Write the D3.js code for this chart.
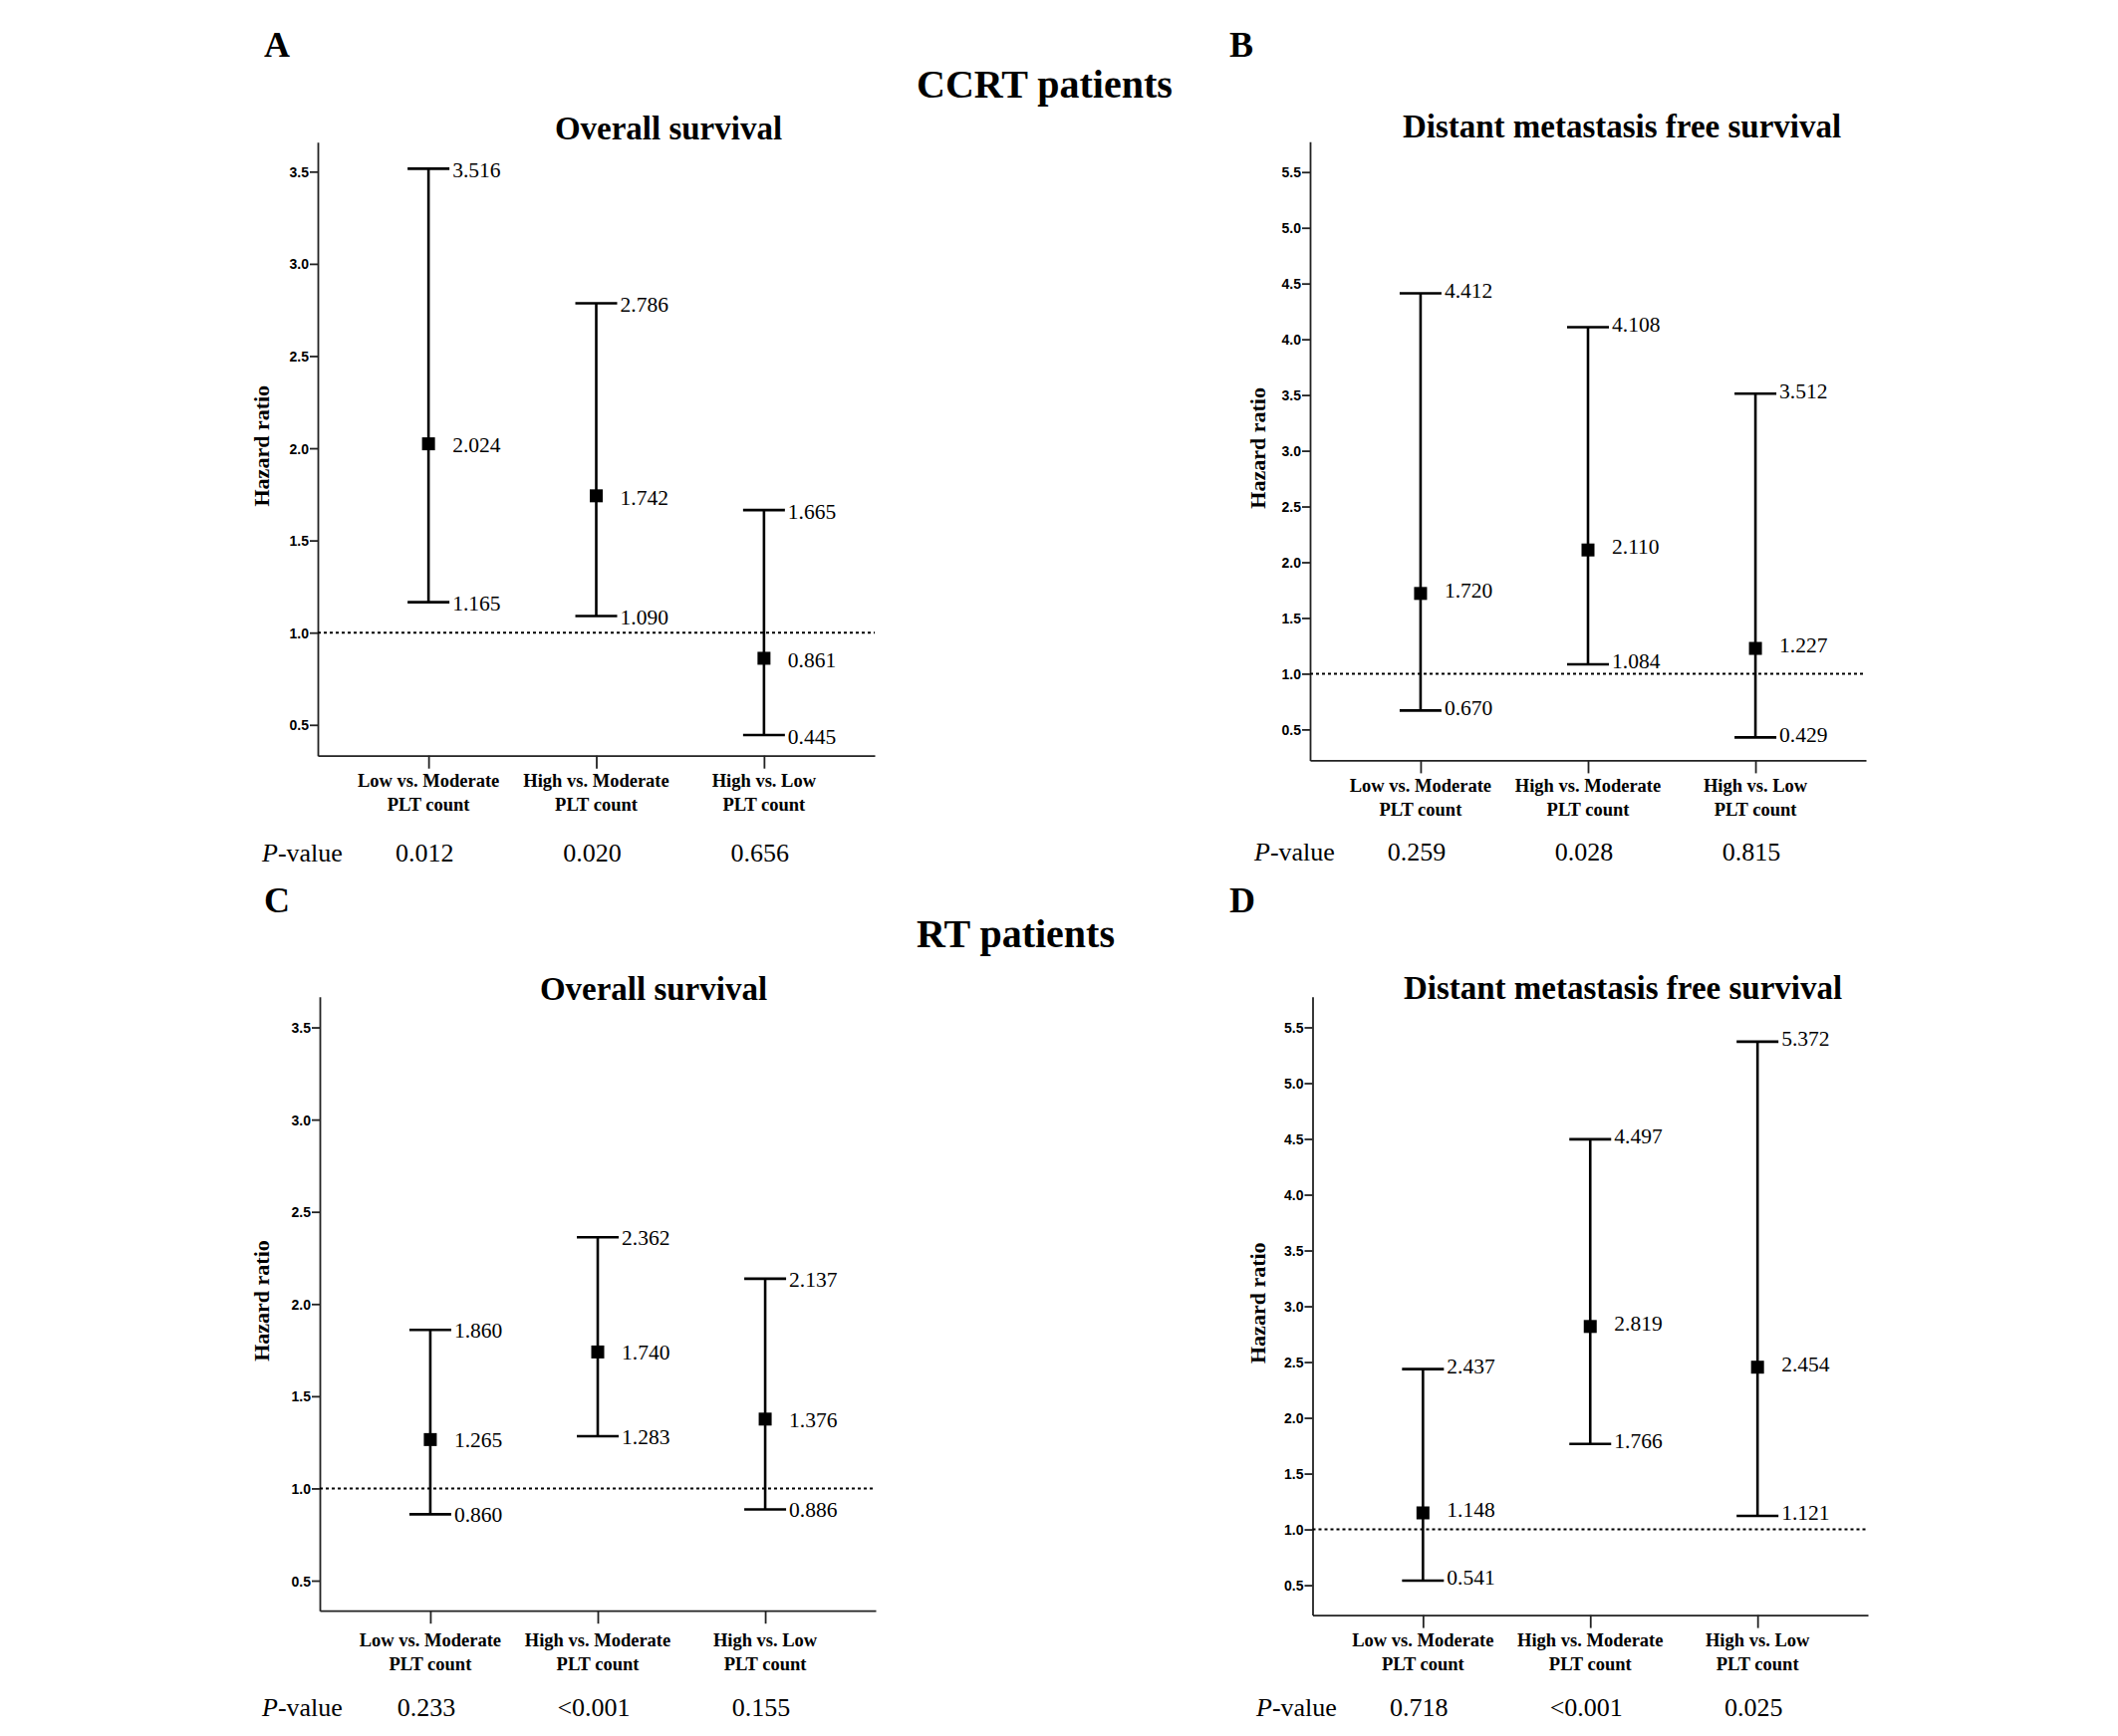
<!DOCTYPE html>
<html>
<head>
<meta charset="utf-8">
<title>Hazard ratios by PLT count</title>
<script src="https://cdn.jsdelivr.net/npm/d3@7"></script>
<style>
  body { margin: 0; background: #fff; }
  svg text { font-family: 'Liberation Serif', 'Times New Roman', serif; fill: #000; }
  svg .tick text { font-family: 'Liberation Sans', Arial, sans-serif; font-weight: bold; font-size: 14px; }
</style>
</head>
<body>
<script>
// categories shared by all four panels
const categories = ['Low vs. Moderate', 'High vs. Moderate', 'High vs. Low']
const categorySub = 'PLT count'

// A: CCRT patients, overall survival
const ccrtOsHr = [2.024, 1.742, 0.861]
const ccrtOsLo = [1.165, 1.090, 0.445]
const ccrtOsHi = [3.516, 2.786, 1.665]
const ccrtOsP = ['0.012', '0.020', '0.656']

// B: CCRT patients, distant metastasis free survival
const ccrtDmfsHr = [1.720, 2.110, 1.227]
const ccrtDmfsLo = [0.670, 1.084, 0.429]
const ccrtDmfsHi = [4.412, 4.108, 3.512]
const ccrtDmfsP = ['0.259', '0.028', '0.815']

// C: RT patients, overall survival
const rtOsHr = [1.265, 1.740, 1.376]
const rtOsLo = [0.860, 1.283, 0.886]
const rtOsHi = [1.860, 2.362, 2.137]
const rtOsP = ['0.233', '<0.001', '0.155']

// D: RT patients, distant metastasis free survival
const rtDmfsHr = [1.148, 2.819, 2.454]
const rtDmfsLo = [0.541, 1.766, 1.121]
const rtDmfsHi = [2.437, 4.497, 5.372]
const rtDmfsP = ['0.718', '<0.001', '0.025']

const osTicks = [0.5, 1.0, 1.5, 2.0, 2.5, 3.0, 3.5]
const dmfsTicks = [0.5, 1.0, 1.5, 2.0, 2.5, 3.0, 3.5, 4.0, 4.5, 5.0, 5.5]

const headings = ['CCRT patients', 'RT patients']
const osTitle = 'Overall survival'
const dmfsTitle = 'Distant metastasis free survival'

let svg = d3.select('body').append('svg')
    .attr('width', 2126)
    .attr('height', 1743)

svg.append('rect').attr('width', 2126).attr('height', 1743).attr('fill', '#fff')

// panel layout
let panels = [
    {letter: 'A', title: osTitle, hr: ccrtOsHr, lo: ccrtOsLo, hi: ccrtOsHi, p: ccrtOsP, ticks: osTicks,
     x0: 319, x1: 878, yTop: 142.7, yBot: 758.7, domain: [0.333, 3.66],
     titleX: 671, titleY: 139.5, letterX: 265, letterY: 57, labelX: 270, pX: 263,
     catY: 790, pY: 865, shift: 1},
    {letter: 'B', title: dmfsTitle, hr: ccrtDmfsHr, lo: ccrtDmfsLo, hi: ccrtDmfsHi, p: ccrtDmfsP, ticks: dmfsTicks,
     x0: 1315, x1: 1873, yTop: 142.3, yBot: 763.4, domain: [0.223, 5.772],
     titleX: 1628, titleY: 138, letterX: 1234, letterY: 57, labelX: 1269.5, pX: 1259,
     catY: 795, pY: 864, shift: -3.5},
    {letter: 'C', title: osTitle, hr: rtOsHr, lo: rtOsLo, hi: rtOsHi, p: rtOsP, ticks: osTicks,
     x0: 321, x1: 879, yTop: 1000.8, yBot: 1617.2, domain: [0.337, 3.666],
     titleX: 656, titleY: 1003.6, letterX: 265, letterY: 916, labelX: 270, pX: 263,
     catY: 1653, pY: 1723, shift: 0},
    {letter: 'D', title: dmfsTitle, hr: rtDmfsHr, lo: rtDmfsLo, hi: rtDmfsHi, p: rtDmfsP, ticks: dmfsTicks,
     x0: 1317.5, x1: 1875, yTop: 1000.8, yBot: 1621.6, domain: [0.232, 5.774],
     titleX: 1629, titleY: 1002.5, letterX: 1234, letterY: 916, labelX: 1269.5, pX: 1261,
     catY: 1653, pY: 1723, shift: -3.5}
]

svg.append('text').attr('x', 920).attr('y', 97.6)
    .style('font-weight', 'bold').style('font-size', '40px').text(headings[0])
svg.append('text').attr('x', 920).attr('y', 950.7)
    .style('font-weight', 'bold').style('font-size', '40px').text(headings[1])

function drawPanel(p) {
    let g = svg.append('g')

    let x = d3.scalePoint().domain(categories).range([p.x0, p.x1]).padding(0.66)
    let y = d3.scaleLinear().domain(p.domain).range([p.yBot, p.yTop])

    let yAxis = d3.axisLeft(y).tickValues(p.ticks).tickFormat(d3.format('.1f'))
        .tickSize(8).tickSizeOuter(0).tickPadding(1)
    let xAxis = d3.axisBottom(x).tickSize(13).tickSizeOuter(0).tickFormat('')

    let ya = g.append('g').attr('transform', 'translate(' + p.x0 + ',0)').call(yAxis)
    g.append('g').attr('transform', 'translate(0,' + p.yBot + ')').call(xAxis)
    ya.selectAll('.tick text').attr('dy', '0.36em')
    g.selectAll('.domain, .tick line').attr('stroke', '#222').attr('stroke-width', 1.8)

    // reference line at HR = 1
    g.append('line')
        .attr('x1', p.x0).attr('x2', p.x1)
        .attr('y1', y(1)).attr('y2', y(1))
        .attr('stroke', '#000').attr('stroke-width', 2)
        .attr('stroke-dasharray', '3,3')

    let rows = categories.map((c, i) => ({cat: c, hr: p.hr[i], lo: p.lo[i], hi: p.hi[i], p: p.p[i]}))

    let bars = g.selectAll('.bar').data(rows).enter().append('g').attr('class', 'bar')

    bars.append('line')
        .attr('x1', d => x(d.cat)).attr('x2', d => x(d.cat))
        .attr('y1', d => y(d.lo)).attr('y2', d => y(d.hi))
        .attr('stroke', '#000').attr('stroke-width', 2.6)

    bars.selectAll('.cap').data(d => [{cat: d.cat, v: d.lo}, {cat: d.cat, v: d.hi}])
        .enter().append('line').attr('class', 'cap')
        .attr('x1', d => x(d.cat) - 21).attr('x2', d => x(d.cat) + 21)
        .attr('y1', d => y(d.v)).attr('y2', d => y(d.v))
        .attr('stroke', '#000').attr('stroke-width', 2.6)

    bars.append('rect')
        .attr('x', d => x(d.cat) - 6.5).attr('y', d => y(d.hr) - 6.5)
        .attr('width', 13).attr('height', 13)
        .attr('fill', '#000')

    bars.selectAll('.val').data(d => [{cat: d.cat, v: d.lo}, {cat: d.cat, v: d.hr}, {cat: d.cat, v: d.hi}])
        .enter().append('text').attr('class', 'val')
        .attr('x', d => x(d.cat) + 24)
        .attr('y', d => y(d.v) + p.shift)
        .attr('dy', '0.36em')
        .style('font-size', '21.5px')
        .text(d => d3.format('.3f')(d.v))

    // category labels
    bars.append('text')
        .attr('x', d => x(d.cat)).attr('y', p.catY)
        .attr('text-anchor', 'middle')
        .style('font-weight', 'bold').style('font-size', '18.5px')
        .text(d => d.cat)
    bars.append('text')
        .attr('x', d => x(d.cat)).attr('y', p.catY + 24)
        .attr('text-anchor', 'middle')
        .style('font-weight', 'bold').style('font-size', '18.5px')
        .text(categorySub)

    // p-values
    let pl = g.append('text').attr('x', p.pX).attr('y', p.pY).style('font-size', '26px')
    pl.append('tspan').style('font-style', 'italic').text('P')
    pl.append('tspan').text('-value')

    bars.append('text')
        .attr('x', d => x(d.cat) - 4).attr('y', p.pY)
        .attr('text-anchor', 'middle')
        .style('font-size', '26px')
        .text(d => d.p)

    // y label
    g.append('text')
        .attr('transform', 'translate(' + p.labelX + ',' + ((p.yTop + p.yBot) / 2 - 3) + ') rotate(-90)')
        .attr('text-anchor', 'middle')
        .style('font-weight', 'bold').style('font-size', '22px')
        .text('Hazard ratio')

    g.append('text')
        .attr('x', p.titleX).attr('y', p.titleY)
        .attr('text-anchor', 'middle')
        .style('font-weight', 'bold').style('font-size', '33px')
        .text(p.title)

    g.append('text')
        .attr('x', p.letterX).attr('y', p.letterY)
        .style('font-weight', 'bold').style('font-size', '36px')
        .text(p.letter)
}

panels.forEach(drawPanel)
</script>
</body>
</html>
